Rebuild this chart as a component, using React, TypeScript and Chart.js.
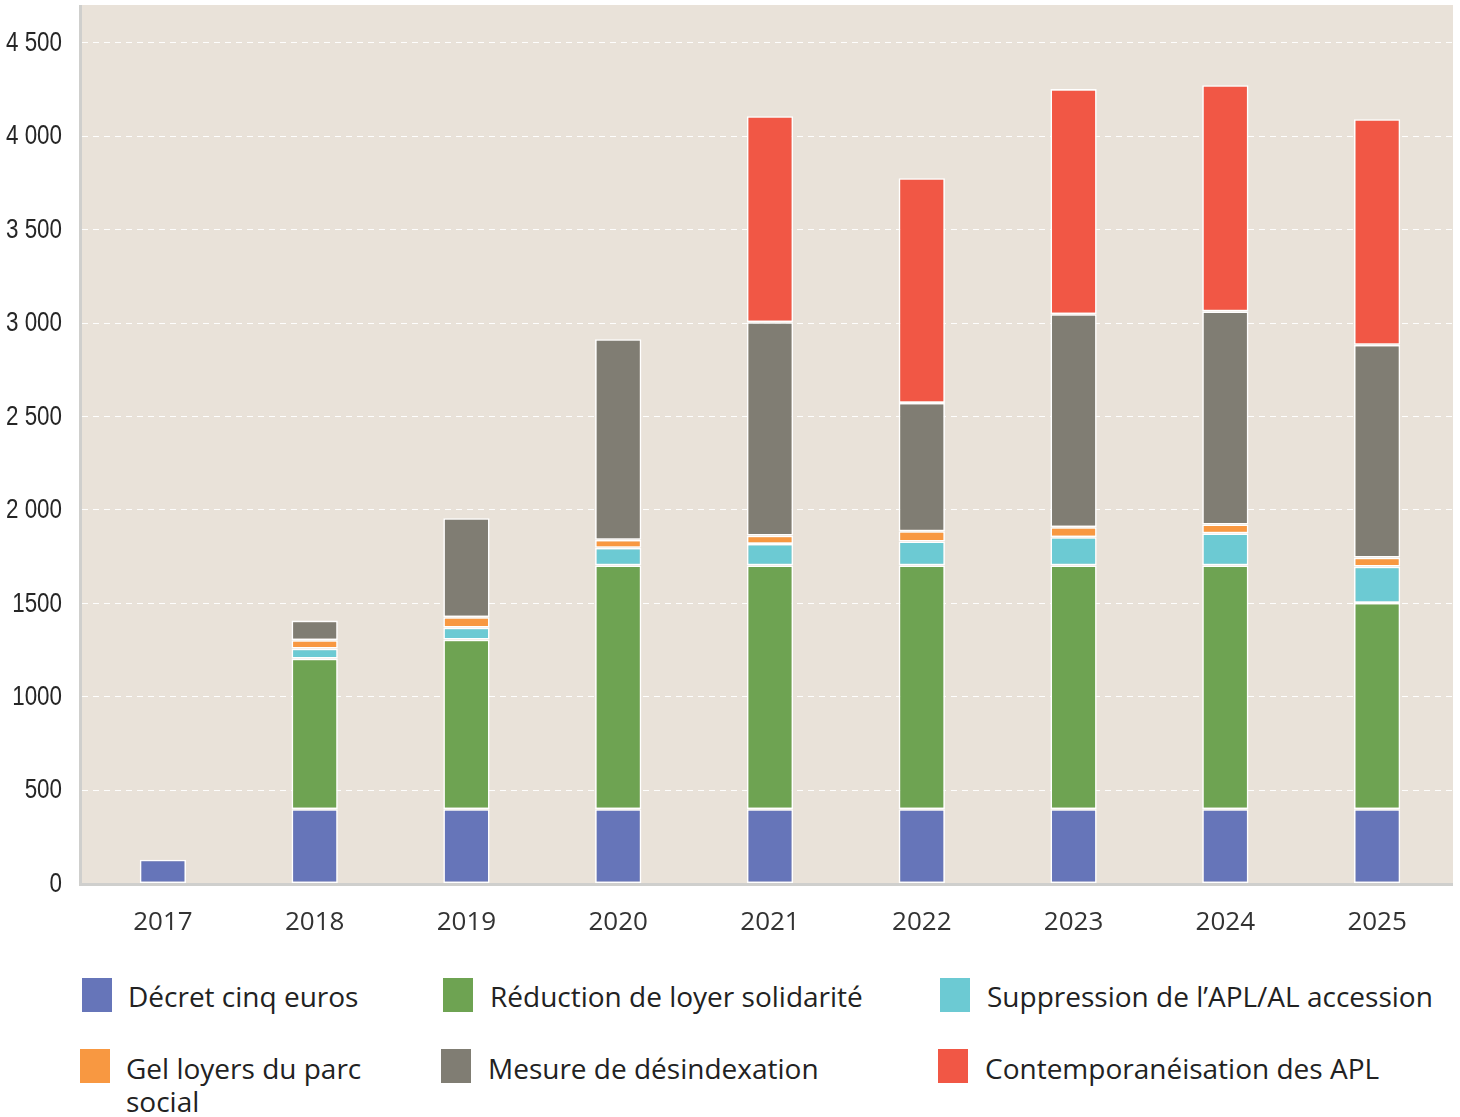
import React, { useEffect, useRef } from "react";
import { Chart, registerables } from "chart.js";

Chart.register(...registerables);

const categories = ["2017", "2018", "2019", "2020", "2021", "2022", "2023", "2024", "2025"];
const decretCinqEuros = [125, 395, 395, 395, 395, 395, 395, 395, 395];
const reductionLoyerSolidarite = [null, 806, 908, 1305, 1305, 1305, 1305, 1305, 1104];
const suppressionAplAccession = [null, 54, 64, 94, 115, 128, 151, 172, 195];
const gelLoyersParcSocial = [null, 45, 56, 43, 45, 55, 54, 47, 48];
const mesureDesindexation = [null, 105, 530, 1074, 1142, 687, 1140, 1141, 1139];
const contemporaneisationApl = [null, null, null, null, 1103, 1203, 1205, 1211, 1208];

const yTickValues = [0, 500, 1000, 1500, 2000, 2500, 3000, 3500, 4000, 4500];
const yTickLabels = ["0", "500", "1000", "1500", "2 000", "2 500", "3 000", "3 500", "4 000", "4 500"];

const seriesNames = [
  "Décret cinq euros",
  "Réduction de loyer solidarité",
  "Suppression de l’APL/AL accession",
  "Gel loyers du parc social",
  "Mesure de désindexation",
  "Contemporanéisation des APL",
];
const seriesColors = ["#6675b9", "#6ea352", "#6ccad3", "#f89841", "#807d73", "#f15745"];

const legendItems = [
  { idx: 0, boxX: 82, boxY: 978, textX: 128 },
  { idx: 1, boxX: 443, boxY: 978, textX: 490 },
  { idx: 2, boxX: 940, boxY: 978, textX: 987 },
  { idx: 3, boxX: 80, boxY: 1049, textX: 126 },
  { idx: 4, boxX: 441, boxY: 1049, textX: 488 },
  { idx: 5, boxX: 938, boxY: 1049, textX: 985 },
];

const AXIS_LEFT = 80;

const framePlugin = {
  id: "plotFrame",
  beforeDatasetsDraw(chart: any) {
    const { ctx, chartArea, scales } = chart;
    if (!chartArea) return;
    const y = scales.y;
    const left = AXIS_LEFT;
    const right = chartArea.right;
    ctx.save();
    // background
    ctx.fillStyle = "#e9e2d9";
    ctx.fillRect(left, chartArea.top, right - left, chartArea.bottom - chartArea.top);
    // grid lines
    ctx.strokeStyle = "rgba(255,255,255,0.95)";
    ctx.lineWidth = 1;
    ctx.setLineDash([6, 5]);
    yTickValues.forEach((v) => {
      if (v === 0) return;
      const py = Math.round(y.getPixelForValue(v)) + 0.5;
      ctx.beginPath();
      ctx.moveTo(left + 2, py);
      ctx.lineTo(right, py);
      ctx.stroke();
    });
    ctx.setLineDash([]);
    // axis lines
    ctx.fillStyle = "#cfcfcd";
    ctx.fillRect(left - 1, chartArea.top, 3, chartArea.bottom - chartArea.top + 3);
    ctx.fillRect(left - 1, chartArea.bottom, right - left + 1, 3);
    // y tick labels (narrow)
    ctx.fillStyle = "#262626";
    ctx.font = '28px "Liberation Sans", Arial, sans-serif';
    ctx.textAlign = "right";
    ctx.textBaseline = "middle";
    const sx = 0.8;
    yTickValues.forEach((v, i) => {
      const py = y.getPixelForValue(v) + 1;
      ctx.save();
      ctx.translate(62, py);
      ctx.scale(sx, 1);
      ctx.fillText(yTickLabels[i], 0, 0);
      ctx.restore();
    });
    ctx.restore();
  },
};

export default function App() {
  const canvasRef = useRef<HTMLCanvasElement | null>(null);

  useEffect(() => {
    document.body.style.margin = "0";
    const canvas = canvasRef.current;
    if (!canvas) return;
    const allData = [
      decretCinqEuros,
      reductionLoyerSolidarite,
      suppressionAplAccession,
      gelLoyersParcSocial,
      mesureDesindexation,
      contemporaneisationApl,
    ];
    const chart = new Chart(canvas, {
      type: "bar",
      data: {
        labels: categories,
        datasets: allData.map((d, i) => ({
          label: seriesNames[i],
          data: d as any,
          backgroundColor: seriesColors[i],
          borderColor: "#ffffff",
          borderWidth: 1.6,
          borderSkipped: false,
          barPercentage: 0.305,
          categoryPercentage: 1,
        })),
      },
      options: {
        animation: false,
        responsive: false,
        devicePixelRatio: 1,
        layout: { padding: { top: 5, right: 7, left: 0, bottom: 0 } },
        plugins: {
          legend: { display: false },
          tooltip: { enabled: false },
        },
        scales: {
          x: {
            stacked: true,
            grid: { display: false, drawTicks: false },
            border: { display: false },
            ticks: {
              color: "#333333",
              padding: 24,
              font: { family: '"Open Sans", "Noto Sans", sans-serif', size: 26 },
            },
            afterFit(scale: any) {
              scale.height = 62;
            },
          },
          y: {
            stacked: true,
            min: 0,
            max: 4700,
            afterBuildTicks(scale: any) {
              scale.ticks = yTickValues.map((v) => ({ value: v }));
            },
            afterFit(scale: any) {
              scale.width = 87;
              scale.paddingTop = 0;
              scale.paddingBottom = 0;
            },
            grid: { display: false, drawTicks: false },
            border: { display: false },
            ticks: { display: false },
          },
        },
      },
      plugins: [framePlugin],
    });
    return () => chart.destroy();
  }, []);

  return (
    <div style={{ position: "relative", width: 1460, height: 1117, background: "#ffffff", overflow: "hidden" }}>
      <canvas ref={canvasRef} width={1460} height={945} style={{ display: "block", position: "absolute", left: 0, top: 0 }} />
      {legendItems.map((it) => (
        <React.Fragment key={it.idx}>
          <div
            style={{
              position: "absolute",
              left: it.boxX,
              top: it.boxY,
              width: 30,
              height: 34,
              background: seriesColors[it.idx],
            }}
          />
          <div
            style={{
              position: "absolute",
              left: it.textX,
              top: it.boxY + (it.idx >= 3 ? 3 : 2),
              width: it.idx === 3 ? 250 : 500,
              fontFamily: '"Open Sans", "Noto Sans", sans-serif',
              fontSize: 28,
              lineHeight: "33px",
              color: "#222222",
            }}
          >
            {seriesNames[it.idx]}
          </div>
        </React.Fragment>
      ))}
    </div>
  );
}
